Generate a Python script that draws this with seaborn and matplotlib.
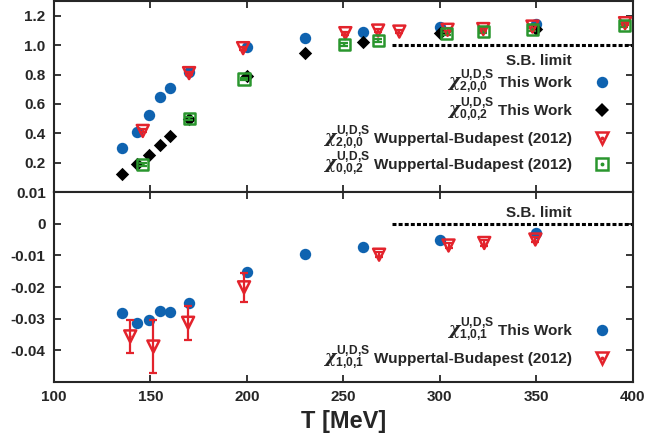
import numpy as np
import pandas as pd
import matplotlib
matplotlib.use("Agg")
import matplotlib.pyplot as plt
import matplotlib.transforms as mtransforms
import seaborn as sns

# ---------------- data ----------------
T_tw = [135, 143, 149, 155, 160, 170, 200, 230, 260, 300, 350]
chi200_tw = [0.30, 0.41, 0.525, 0.648, 0.71, 0.82, 0.99, 1.05, 1.09, 1.127, 1.145]
chi002_tw = [0.125, 0.19, 0.25, 0.32, 0.38, 0.495, 0.793, 0.945, 1.025, 1.086, 1.11]
chi101_tw = [-0.0282, -0.0314, -0.0305, -0.0277, -0.0280, -0.0250, -0.0152,
             -0.0096, -0.0074, -0.0051, -0.0030]

T_wb200 = [146, 170, 198, 251, 268, 279, 304, 322.5, 348, 396]
chi200_wb = [0.416, 0.81, 0.98, 1.082, 1.10, 1.093, 1.105, 1.11, 1.127, 1.15]
chi200_wb_err = [0.01, 0.01, 0.01, 0.01, 0.01, 0.01, 0.01, 0.01, 0.01, 0.01]

T_wb002 = [146, 170, 198.5, 250.5, 268, 303.5, 322.5, 348, 395.5]
chi002_wb = [0.19, 0.498, 0.77, 1.002, 1.03, 1.082, 1.093, 1.11, 1.134]
chi002_wb_err = [0.01, 0.01, 0.01, 0.01, 0.01, 0.01, 0.01, 0.01, 0.01]

T_wb101 = [139.5, 151.5, 169.5, 198.5, 268.5, 304.5, 323, 349.5]
chi101_wb = [-0.0356, -0.0388, -0.0313, -0.0201, -0.0098, -0.0069, -0.0061, -0.0050]
chi101_wb_err = [0.0052, 0.0083, 0.0054, 0.0045, 0.0008, 0.0008, 0.0008, 0.0008]

SB_T = [275, 400]
SB_top = [1.0, 1.0]
SB_bot = [0.0, 0.0]

x_ticks = [100, 150, 200, 250, 300, 350, 400]
top_yticks = [0.2, 0.4, 0.6, 0.8, 1.0, 1.2]
top_ylabels = ["0.2", "0.4", "0.6", "0.8", "1.0", "1.2"]
bot_yticks = [-0.04, -0.03, -0.02, -0.01, 0.0, 0.01]
bot_ylabels = ["-0.04", "-0.03", "-0.02", "-0.01", "0", "0.01"]

# ---------------- style ----------------
sns.set_theme(style="ticks")
plt.rcParams["font.family"] = ["Liberation Sans", "DejaVu Sans"]
plt.rcParams["font.weight"] = "bold"
plt.rcParams["mathtext.fontset"] = "custom"
plt.rcParams["mathtext.rm"] = "Liberation Sans:bold"
plt.rcParams["mathtext.bf"] = "Liberation Sans:bold"
plt.rcParams["mathtext.it"] = "DejaVu Serif:italic"
plt.rcParams["mathtext.default"] = "rm"

BLUE = "#0f63b0"
RED = "#e3232c"
GREEN = "#2a962e"
BLACK = "#000000"

fig = plt.figure(figsize=(6.47, 4.45), dpi=100)
L, R = 0.0835, 0.978
ax1 = fig.add_axes([L, 0.5685, R - L, 0.998 - 0.5685])
ax2 = fig.add_axes([L, 0.1416, R - L, 0.5685 - 0.1416])

ms_circ = 8.2
ms_diam = 6.8
ms_tri = 8.6
ms_sq = 8.0


def open_marker(ax, x, y, yerr, marker, color, ms, cap=3):
    ax.errorbar(x, y, yerr=yerr, fmt="none", ecolor=color, elinewidth=1.6,
                capsize=cap, capthick=1.6, zorder=3)
    sns.scatterplot(x=x, y=y, ax=ax, marker=marker, s=ms ** 2,
                    facecolor="none", edgecolor=color, linewidth=1.8,
                    zorder=4, legend=False)
    sns.scatterplot(x=x, y=y, ax=ax, marker="o", s=3, color=color,
                    linewidth=0, zorder=5, legend=False)


# ---- top panel ----
sns.lineplot(x=SB_T, y=SB_top, ax=ax1, color="black", lw=2.2,
             linestyle=(0, (1.3, 0.7)), zorder=2)
sns.scatterplot(x=T_tw, y=chi200_tw, ax=ax1, marker="o", s=ms_circ ** 2,
                color=BLUE, linewidth=0, zorder=3, legend=False)
sns.scatterplot(x=T_tw, y=chi002_tw, ax=ax1, marker="D", s=ms_diam ** 2,
                color=BLACK, linewidth=0, zorder=3, legend=False)
open_marker(ax1, T_wb200, chi200_wb, chi200_wb_err, "v", RED, ms_tri)
open_marker(ax1, T_wb002, chi002_wb, chi002_wb_err, "s", GREEN, ms_sq)

# ---- bottom panel ----
sns.lineplot(x=SB_T, y=SB_bot, ax=ax2, color="black", lw=2.2,
             linestyle=(0, (1.3, 0.7)), zorder=2)
sns.scatterplot(x=T_tw, y=chi101_tw, ax=ax2, marker="o", s=ms_circ ** 2,
                color=BLUE, linewidth=0, zorder=3, legend=False)
open_marker(ax2, T_wb101, chi101_wb, chi101_wb_err, "v", RED, ms_tri)

# ---- axes formatting ----
for ax in (ax1, ax2):
    ax.set_xlim(100, 400)
    ax.set_xticks(x_ticks)
    ax.tick_params(direction="in", length=5, width=1.3, top=True, right=True,
                   labelsize=11, pad=6)
    for sp in ax.spines.values():
        sp.set_linewidth(1.5)
        sp.set_visible(True)
    ax.set_xlabel("")
    ax.set_ylabel("")

ax1.set_ylim(0.0, 1.302)
ax1.set_yticks(top_yticks)
ax1.set_yticklabels(top_ylabels, fontweight="bold")
ax1.tick_params(labelbottom=False)

ax2.set_ylim(-0.05, 0.01)
ax2.set_yticks(bot_yticks)
ax2.set_yticklabels(bot_ylabels, fontweight="bold")
ax2.set_xticklabels([str(t) for t in x_ticks], fontweight="bold")
ax2.text(0.5, -0.21, "T [MeV]", transform=ax2.transAxes, ha="center",
         va="center", fontsize=17, fontweight="bold")

# ---- legends (manual, gnuplot-like) ----
tx, mx = 0.895, 0.946
fs = 11
fs_math = 12.5
renderer = fig.canvas.get_renderer()


def key_row(ax, y, sym, label, marker, color, ms, open_=False):
    base = mtransforms.offset_copy(ax.transAxes, fig=fig, y=-5.0, units="dots")
    t = ax.text(tx, y, label, transform=base, ha="right", va="baseline",
                fontsize=fs, fontweight="bold")
    bb = t.get_window_extent(renderer=renderer)
    x0 = ax.transAxes.inverted().transform((bb.x0 - 4, bb.y0))[0]
    ax.text(x0, y, sym, transform=base, ha="right", va="baseline",
            fontsize=fs_math)
    if open_:
        ax.plot([mx], [y], transform=ax.transAxes, marker=marker, ms=ms,
                mfc="none", mec=color, mew=1.8, ls="none", clip_on=False)
        ax.plot([mx], [y], transform=ax.transAxes, marker="o", ms=1.8,
                color=color, ls="none", clip_on=False)
    else:
        ax.plot([mx], [y], transform=ax.transAxes, marker=marker, ms=ms,
                color=color, mew=0, ls="none", clip_on=False)


def chi_label(sub):
    s = "{,}".join(sub)
    return r"$\mathit{\chi}^{U{,}D{,}S}_{" + s + "}$"


ax1.text(tx, 0.686, "S.B. limit", transform=ax1.transAxes, ha="right",
         va="center", fontsize=fs, fontweight="bold")
key_row(ax1, 0.576, chi_label("200"), "This Work", "o", BLUE, ms_circ)
key_row(ax1, 0.429, chi_label("002"), "This Work", "D", BLACK, ms_diam)
key_row(ax1, 0.283, chi_label("200"), "Wuppertal-Budapest (2012)", "v",
        RED, ms_tri, open_=True)
key_row(ax1, 0.147, chi_label("002"), "Wuppertal-Budapest (2012)", "s",
        GREEN, ms_sq, open_=True)

ax2.text(tx, 0.891, "S.B. limit", transform=ax2.transAxes, ha="right",
         va="center", fontsize=fs, fontweight="bold")
key_row(ax2, 0.274, chi_label("101"), "This Work", "o", BLUE, ms_circ)
key_row(ax2, 0.125, chi_label("101"), "Wuppertal-Budapest (2012)", "v",
        RED, ms_tri, open_=True)

fig.savefig("out.png", dpi=100)
